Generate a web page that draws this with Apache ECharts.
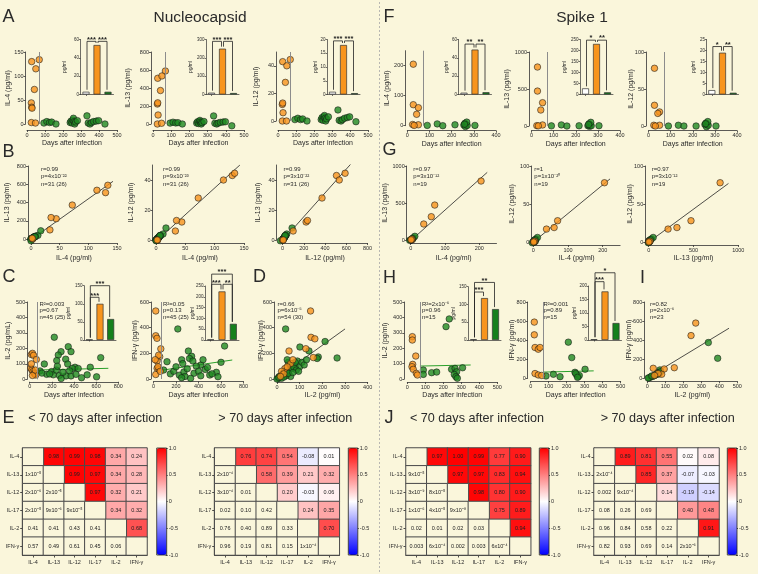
<!DOCTYPE html>
<html>
<head>
<meta charset="utf-8">
<script src="https://cdn.jsdelivr.net/npm/echarts@6.0.0/dist/echarts.min.js"></script>
<style>
html,body{margin:0;padding:0;background:#faf6db;}
#chart{width:758px;height:574px;}
</style>
</head>
<body>
<div id="chart"></div>
<script>
// ================= DATA =================
const dayCutoff = 70;
const groups = ['Control', '<70 days', '>70 days'];
const cyto = ['IL-4', 'IL-13', 'IL-12', 'IL-17', 'IL-2', 'IFN-γ'];

// ---- Nucleocapsid (A, B) ----
const nDaysEarly = [26, 68, 49, 41, 24, 26, 28, 24, 47];
const nIL4Early  = [130, 134, 115, 72, 44, 35, 33, 3, 2];
const nIL13Early = [508, 589, 534, 372, 222, 235, 100, 0, 8];
const nIL12Early = [43, 44.5, 40, 28, 12, 13, 6, 0, 0];
const nDaysLate  = [94, 110, 125, 137, 161, 240, 245, 250, 255, 258, 262, 265, 270, 280, 333, 340, 350, 358, 370, 385, 398, 433];
const nIL4Late   = [2, 5, 3, 4, 0, 3, 6, 2, 8, 12, 5, 0, 4, 7, 17, 2, 0, 3, 5, 6, 7, 0];
const nIL13Late  = [10, 20, 12, 15, 0, 10, 25, 5, 30, 40, 20, 0, 15, 28, 90, 8, 0, 10, 18, 22, 25, -20];
const nIL12Late  = [1, 2, 1, 1.5, 0, 1, 2.5, 0.5, 3, 4, 2, 0, 1.5, 3, 8, 0.5, 0, 1, 2, 2.5, 3, -0.5];
const nFitIL4IL13  = [[-3, -20], [143, 632]];
const nFitIL4IL12  = [[-3, -2], [143, 50]];
const nFitIL13IL12 = [[-20, -2], [660, 52]];

// ---- Nucleocapsid (C, D) ----
const cIL2Early = [[15,160],[25,168],[35,155],[60,128],[10,72],[20,60],[30,50],[40,40],[45,35],[55,28],[25,25],[15,100],[50,60]];
const cIL2Late = [[222,272],[348,211],[373,179],[283,179],[258,157],[641,140],[325,130],[244,121],[132,99],[343,99],[409,78],[547,78],[385,70],[438,70],[93,54],[198,50],[153,32],[213,29],[268,25],[328,22],[373,22],[418,32],[519,29],[468,10],[604,16],[284,5],[110,40],[240,60],[300,45],[360,55],[250,85],[180,35]];
const cIL2Fit = [[75, 60], [710, 71]];
const cIFNgEarly = [[20,530],[20,337],[31,317],[65,235],[55,174],[32,141],[45,185],[32,83],[50,75],[20,35],[40,95],[60,60],[15,150]];
const cIFNgLate = [[216,390],[310,218],[339,177],[421,109],[559,52],[573,18],[500,31],[632,257],[90,70],[120,135],[150,40],[180,60],[200,95],[230,30],[250,150],[260,120],[270,55],[280,20],[300,80],[320,160],[350,140],[360,45],[380,100],[400,60],[420,25],[440,150],[460,75],[480,90],[520,40],[600,130],[250,10],[330,5]];
const cIFNgFit = [[70, 68], [700, 148]];
const dEarly = [[148,530],[150,325],[167,313],[127,236],[53,218],[160,167],[35,82],[60,120],[20,60],[45,95],[30,40],[70,150],[15,20]];
const dLate = [[38,390],[212,292],[265,164],[182,172],[177,160],[101,249],[141,219],[50,130],[60,110],[70,120],[80,100],[90,140],[100,95],[40,60],[30,50],[20,30],[10,10],[5,5],[15,20],[25,40],[35,35],[45,55],[55,70],[65,80],[75,90],[85,70],[95,60],[110,130],[120,110],[130,150],[60,20],[40,25],[20,5],[10,20],[50,45],[0,0],[8,12],[30,15],[70,50],[80,130],[45,150]];
const dFit = [[0, 8], [300, 390]];

// ---- Spike 1 (F, G) ----
const sDaysEarly = [27, 27, 50, 42, 24, 50, 31];
const sIL4Early  = [205, 70, 60, 38, 4, 3, 1];
const sIL13Early = [797, 472, 315, 216, 5, 14, 2];
const sIL12Early = [78, 28, 19, 17, 1, 1, 0];
const sDaysLate  = [90, 135, 160, 215, 255, 260, 262, 265, 270, 268, 305, 258];
const sIL4Late   = [1, 6, 0, 3, 2, 8, -3, 4, 1, 12, 1, 5];
const sIL13Late  = [2, 15, 0, 3, 5, 30, -5, 10, 3, 50, 4, 20];
const sIL12Late  = [0, 1, 0, 0, 2, 4, -1, 2, 1, 6, 0, 3];
const sFitIL4IL13  = [[-5, -30], [223, 914]];
const sFitIL4IL12  = [[-5, -2], [221, 83]];
const sFitIL13IL12 = [[-10, -1], [890, 77]];

// ---- Spike 1 (H, I) ----
const hIL2Early = [[28,275],[28,253],[47,149],[30,95],[26,80],[33,63],[50,37],[56,26]];
const hIL2Late = [[215,340],[233,390],[89,58],[89,30],[135,41],[163,45],[246,63],[265,69],[274,47],[261,30],[270,15],[278,5],[307,73]];
const hIL2Fit = [[70, 84], [352, 91]];
const hIFNgEarly = [[20,589],[20,456],[24,323],[42,305],[52,323],[24,50],[42,35],[61,30]];
const hIFNgLate = [[85,24],[126,42],[163,17],[209,379],[228,217],[246,63],[256,35],[264,17],[270,30],[302,95],[250,50],[260,10]];
const hIFNgFit = [[70, 65], [350, 78]];
const iEarly = [[269,579],[243,448],[33,105],[94,98],[150,111],[80,42],[60,50],[40,30]];
const iLate = [[339,375],[391,210],[70,88],[60,60],[50,40],[40,30],[30,20],[20,15],[10,5],[5,3],[25,25],[45,35],[55,50],[65,45],[75,70]];
const iFit = [[0, 5], [454, 525]];

// ---- inset bars (Control, <70 d, >70 d) and significance [i, j, height, label] ----
const nIL4Bars = [3, 54, 3];      const nIL4Sig = [[0,1,58,'***'],[1,2,58,'***']];
const nIL13Bars = [10, 250, 8];   const nIL13Sig = [[0,1,290,'***'],[1,2,290,'***']];
const nIL12Bars = [1, 18, 0.5];   const nIL12Sig = [[0,1,19.5,'***'],[1,2,19.5,'***']];
const nIL2Bars = [1, 100, 58];    const nIL2Sig = [[0,1,118,'***'],[0,2,150,'***']];
const nIFNgBars = [2, 225, 75];   const nIFNgSig = [[0,1,258,'***'],[1,2,258,'**'],[0,2,305,'***']];
const sIL4Bars = [2, 49, 2.5];    const sIL4Sig = [[0,1,55,'**'],[1,2,55,'**']];
const sIL13Bars = [28, 230, 10];  const sIL13Sig = [[0,1,247,'*'],[1,2,247,'**']];
const sIL12Bars = [2, 19, 0.8];   const sIL12Sig = [[0,1,21.8,'*'],[1,2,21.8,'**']];
const sIL2Bars = [2, 118, 87];    const sIL2Sig = [[0,1,135,'***'],[0,2,162,'**']];
const sIFNgBars = [3, 180, 63];   const sIFNgSig = [[0,1,216,'***'],[0,2,249,'*']];

// ---- correlation matrices: r (upper triangle rows) and p (lower triangle rows) ----
const eEarlyR = [[0.98,0.99,0.98,0.34,0.24],[0.99,0.97,0.34,0.28],[0.97,0.32,0.21],[0.34,0.32],[0.68]];
const eEarlyP = [['1x10⁻⁵'],['2x10⁻⁶','2x10⁻⁵'],['2x10⁻⁵','9x10⁻⁶','9x10⁻⁵'],['0.41','0.41','0.43','0.41'],['0.57','0.49','0.61','0.45','0.06']];
const eLateR = [[0.76,0.74,0.54,-0.08,0.01],[0.58,0.39,0.21,0.32],[0.20,-0.03,0.06],[0.24,0.35],[0.70]];
const eLateP = [['2x10⁻⁴'],['3x10⁻⁴','0.01'],['0.02','0.10','0.42'],['0.76','0.40','0.89','0.33'],['0.96','0.19','0.81','0.15','1x10⁻⁴']];
const jEarlyR = [[0.97,1.00,0.99,0.77,0.90],[0.97,0.97,0.83,0.94],[0.98,0.80,0.90],[0.75,0.89],[0.94]];
const jEarlyP = [['9x10⁻⁵'],['3x10⁻⁹','8x10⁻⁵'],['1x10⁻⁶','4x10⁻⁵','9x10⁻⁸'],['0.02','0.01','0.02','0.03'],['0.003','6x10⁻⁴','0.002','0.003','6x10⁻⁴']];
const jLateR = [[0.89,0.81,0.55,0.02,0.08],[0.85,0.37,-0.07,-0.03],[0.14,-0.19,-0.14],[0.40,0.48],[0.91]];
const jLateP = [['2x10⁻⁴'],['0.002','9x10⁻⁴'],['0.08','0.26','0.69'],['0.96','0.84','0.58','0.22'],['0.82','0.93','0.69','0.14','2x10⁻⁶']];

// ---- statistics texts ----
const statB1 = ['r=0.99', 'p=4x10⁻²²', 'n=31 (26)'];
const statB2 = ['r=0.99', 'p=9x10⁻²³', 'n=31 (26)'];
const statB3 = ['r=0.99', 'p=3x10⁻²²', 'n=31 (26)'];
const statC1 = ['R²=0.003', 'p=0.67', 'n=45 (25)'];
const statC2 = ['R²=0.05', 'p=0.13', 'n=45 (25)'];
const statD  = ['r=0.66', 'p=6x10⁻⁵', 'n=54 (30)'];
const statG1 = ['r=0.97', 'p=3x10⁻¹²', 'n=19'];
const statG2 = ['r=1', 'p=1x10⁻²⁰', 'n=19'];
const statG3 = ['r=0.97', 'p=3x10⁻¹²', 'n=19'];
const statH1 = ['R²=2x10⁻⁶', 'p=0.96', 'n=15'];
const statH2 = ['R²=0.001', 'p=0.89', 'n=15'];
const statI  = ['r=0.82', 'p=2x10⁻⁶', 'n=23'];

// ================= STYLE / BUILD =================
const CREAM = '#faf6db', TXT = '#2a2a2a', AX = '#333333';
const ORANGE = '#f7941d', GREEN = '#1f8a22', GREENBAR = '#15801c';
const FONT = 'Liberation Sans, Arial, sans-serif';
const BARCOL = ['#ffffff', ORANGE, GREENBAR];
const DOT = 6.5;
const zip = (xs, ys) => xs.map((x, i) => [x, ys[i]]);
const plain = v => String(v);

const option = {
  backgroundColor: CREAM, animation: false,
  textStyle: {fontFamily: FONT},
  grid: [], xAxis: [], yAxis: [], series: [], visualMap: [],
  graphic: {elements: []}
};
const G = option.graphic.elements;

function addGrid(g) {
  option.grid.push(Object.assign({containLabel: false, outerBoundsMode: 'none', show: false}, g));
  return option.grid.length - 1;
}
function valAxis(gi, r, off, name, gap) {
  return {
    type: 'value', gridIndex: gi, min: r[0], max: r[1], interval: r[2], offset: off || 0,
    name: name || '', nameLocation: 'middle', nameGap: gap || 0, nameMoveOverlap: false,
    nameTextStyle: {fontSize: 7, color: TXT, fontFamily: FONT},
    splitLine: {show: false},
    axisLine: {show: true, onZero: false, lineStyle: {color: AX, width: 0.8}},
    axisTick: {show: true, length: 2, lineStyle: {color: AX, width: 0.8}},
    axisLabel: {fontSize: 5.5, color: TXT, margin: 2, fontFamily: FONT, formatter: plain,
      showMaxLabel: r[3] === false ? false : null}
  };
}
function scatterPanel(p) {
  const gi = addGrid(p.g);
  const xi = option.xAxis.push(valAxis(gi, p.x, p.xOff, p.xName, p.xGap)) - 1;
  const yi = option.yAxis.push(valAxis(gi, p.y, p.yOff, p.yName, p.yGap)) - 1;
  if (p.fit) option.series.push({type: 'line', xAxisIndex: xi, yAxisIndex: yi, data: p.fit, symbol: 'none', silent: true, z: 2,
    lineStyle: {color: p.fitColor || '#222', width: p.fitColor ? 1 : 0.8}});
  option.series.push({type: 'scatter', xAxisIndex: xi, yAxisIndex: yi, data: p.green, symbolSize: DOT, clip: false, silent: true, z: 3,
    itemStyle: {color: GREEN, borderColor: '#161616', borderWidth: 0.7}});
  const s = {type: 'scatter', xAxisIndex: xi, yAxisIndex: yi, data: p.orange, symbolSize: DOT, clip: false, silent: true, z: 4,
    itemStyle: {color: ORANGE, borderColor: '#161616', borderWidth: 0.7}};
  if (p.cutoff) s.markLine = {silent: true, symbol: ['none', 'none'], label: {show: false}, animation: false,
    lineStyle: {color: '#8c8c8c', width: 1, type: 'solid'}, emphasis: {disabled: true}, data: [{xAxis: dayCutoff}]};
  option.series.push(s);
}
function insetPanel(p) {
  const gi = addGrid(p.g);
  const xi = option.xAxis.push({type: 'category', gridIndex: gi, data: groups,
    axisLabel: {show: false}, axisTick: {show: true, alignWithLabel: true, length: 1.5, lineStyle: {color: AX, width: 0.7}},
    axisLine: {show: true, lineStyle: {color: AX, width: 0.7}}, splitLine: {show: false}}) - 1;
  const yi = option.yAxis.push({type: 'value', gridIndex: gi, min: 0, max: p.y[0], interval: p.y[1],
    name: 'pg/ml', nameLocation: 'middle', nameGap: p.gap, nameMoveOverlap: false,
    nameTextStyle: {fontSize: 5, color: TXT, fontFamily: FONT},
    axisLine: {show: true, lineStyle: {color: AX, width: 0.7}},
    axisTick: {show: true, length: 1.5, lineStyle: {color: AX, width: 0.7}},
    axisLabel: {fontSize: 4.5, color: TXT, margin: 1.5, fontFamily: FONT, formatter: plain}, splitLine: {show: false}}) - 1;
  option.series.push({type: 'bar', xAxisIndex: xi, yAxisIndex: yi, barWidth: 7, silent: true, z: 3,
    data: p.bars.map((v, i) => ({value: v, itemStyle: {color: BARCOL[i]}})),
    itemStyle: {borderColor: '#333', borderWidth: 0.7}});
  const bars = p.bars, sig = p.sig;
  option.series.push({type: 'custom', xAxisIndex: xi, yAxisIndex: yi, silent: true, z: 6, clip: false,
    data: sig.map(s => [s[0], s[2]]),
    renderItem: function (params, api) {
      const s = sig[params.dataIndex];
      const a = api.coord([s[0], s[2]]), b = api.coord([s[1], s[2]]);
      const ba = api.coord([s[0], bars[s[0]]]), bb = api.coord([s[1], bars[s[1]]]);
      const x1 = a[0] + 1, x2 = b[0] - 1, yh = a[1];
      const y1 = Math.max(ba[1] - 2, yh), y2 = Math.max(bb[1] - 2, yh);
      return {type: 'group', children: [
        {type: 'polyline', shape: {points: [[x1, y1], [x1, yh], [x2, yh], [x2, y2]]}, style: {stroke: '#222', lineWidth: 0.8, fill: 'none'}},
        {type: 'text', x: (x1 + x2) / 2, y: yh + 2.2, style: {text: s[3], fill: '#222', font: 'bold 7.5px ' + FONT, align: 'center', verticalAlign: 'bottom'}}
      ]};
    }});
}
function heatPanel(R, P, g, cb) {
  const gi = addGrid(g);
  const axBase = {axisLine: {show: true, lineStyle: {color: '#222', width: 1.2}},
    axisTick: {show: true, alignWithLabel: true, length: 2.5, lineStyle: {color: '#222', width: 0.8}},
    splitLine: {show: false}, splitArea: {show: false}};
  const xi = option.xAxis.push(Object.assign({type: 'category', gridIndex: gi, data: cyto, position: 'bottom',
    axisLabel: {fontSize: 5.5, color: TXT, margin: 4, interval: 0, fontFamily: FONT}}, axBase)) - 1;
  const yi = option.yAxis.push(Object.assign({type: 'category', gridIndex: gi, data: cyto, inverse: true,
    axisLabel: {fontSize: 5.5, color: TXT, margin: 3.5, interval: 0, fontFamily: FONT, overflow: 'none', width: 40}}, axBase)) - 1;
  const up = [], low = [], lowTxt = [];
  for (let i = 0; i < 6; i++) for (let j = 0; j < 6; j++) {
    if (j > i) up.push([j, i, R[i][j - i - 1]]);
    else { low.push([j, i, 0]); lowTxt.push(i > j ? P[i - 1][j] : ''); }
  }
  const upIdx = option.series.push({type: 'heatmap', xAxisIndex: xi, yAxisIndex: yi, data: up, silent: true,
    itemStyle: {borderColor: '#4a4a4a', borderWidth: 1}, emphasis: {disabled: true},
    label: {show: true, fontSize: 5.5, color: '#222', fontFamily: FONT, formatter: q => q.value[2].toFixed(2)}}) - 1;
  option.series.push({type: 'heatmap', xAxisIndex: xi, yAxisIndex: yi, data: low, silent: true,
    itemStyle: {color: CREAM, borderColor: '#4a4a4a', borderWidth: 1}, emphasis: {disabled: true},
    label: {show: true, fontSize: 5.5, color: '#222', fontFamily: FONT, formatter: q => lowTxt[q.dataIndex]}});
  option.visualMap.push({type: 'continuous', seriesIndex: upIdx, min: -1, max: 1, calculable: false, hoverLink: false,
    orient: 'vertical', left: cb.left, top: cb.top, itemWidth: cb.w, itemHeight: cb.h, padding: 0,
    inRange: {color: ['#0000ff', '#ffffff', '#ff0000']}});
  const cg = addGrid({left: cb.left + cb.w - 1, top: cb.top, width: 1, height: cb.h});
  option.xAxis.push({type: 'value', gridIndex: cg, show: false, min: 0, max: 1});
  option.yAxis.push({type: 'value', gridIndex: cg, position: 'right', min: -1, max: 1, interval: 0.5,
    axisLine: {show: false}, splitLine: {show: false},
    axisTick: {show: true, length: 2, lineStyle: {color: '#222', width: 0.8}},
    axisLabel: {fontSize: 5.5, color: TXT, margin: 2, fontFamily: FONT,
      formatter: v => v === 1 ? '1.0' : (v === -1 ? '-1.0' : String(v))}});
  G.push({type: 'rect', z: 100, silent: true, shape: {x: cb.left, y: cb.top, width: cb.w, height: cb.h},
    style: {fill: 'none', stroke: '#222', lineWidth: 0.8}});
}
function txt(x, y, s, size, ex) {
  G.push({type: 'text', x: x, y: y, silent: true, z: 50,
    style: Object.assign({text: s, fill: TXT, font: size + 'px ' + FONT, align: 'left', verticalAlign: 'middle'}, ex || {})});
}
function stat(x, y, lines, lh) {
  txt(x, y, lines.join('\n'), 6, {verticalAlign: 'top', lineHeight: lh});
}

// ---------- Panel A ----------
const DAYS = 'Days after infection';
scatterPanel({g: {left: 27, top: 52, width: 90, height: 72}, x: [0, 500, 100], xOff: 6, xName: DAYS, xGap: 10,
  y: [0, 150, 50], yOff: 1.5, yName: 'IL-4 (pg/ml)', yGap: 14,
  green: zip(nDaysLate, nIL4Late), orange: zip(nDaysEarly, nIL4Early), cutoff: true});
scatterPanel({g: {left: 153, top: 52, width: 91, height: 72}, x: [0, 500, 100], xOff: 6, xName: DAYS, xGap: 10,
  y: [0, 800, 200], yOff: 2, yName: 'IL-13 (pg/ml)', yGap: 19.5,
  green: zip(nDaysLate, nIL13Late), orange: zip(nDaysEarly, nIL13Early), cutoff: true});
scatterPanel({g: {left: 278, top: 52, width: 90, height: 69}, x: [0, 500, 100], xOff: 9, xName: DAYS, xGap: 10,
  y: [0, 50, 20, false], yOff: 2, yName: 'IL-12 (pg/ml)', yGap: 16.5,
  green: zip(nDaysLate, nIL12Late), orange: zip(nDaysEarly, nIL12Early), cutoff: true});
insetPanel({g: {left: 80.5, top: 39.5, width: 33, height: 55}, y: [60, 20], gap: 13, bars: nIL4Bars, sig: nIL4Sig});
insetPanel({g: {left: 206, top: 39.5, width: 33, height: 55}, y: [300, 100], gap: 12.5, bars: nIL13Bars, sig: nIL13Sig});
insetPanel({g: {left: 327, top: 39.5, width: 33, height: 55}, y: [20, 5], gap: 8.5, bars: nIL12Bars, sig: nIL12Sig});

// ---------- Panel B ----------
scatterPanel({g: {left: 31, top: 166, width: 86, height: 73}, x: [0, 150, 50], xOff: 4, xName: 'IL-4 (pg/ml)', xGap: 11.5,
  y: [0, 800, 200], yOff: 3, yName: 'IL-13 (pg/ml)', yGap: 17.5,
  green: zip(nIL4Late, nIL13Late), orange: zip(nIL4Early, nIL13Early), fit: nFitIL4IL13});
scatterPanel({g: {left: 156, top: 165, width: 88, height: 75}, x: [0, 150, 50], xOff: 3, xName: 'IL-4 (pg/ml)', xGap: 11.5,
  y: [0, 50, 20, false], yOff: 3.5, yName: 'IL-12 (pg/ml)', yGap: 18,
  green: zip(nIL4Late, nIL12Late), orange: zip(nIL4Early, nIL12Early), fit: nFitIL4IL12});
scatterPanel({g: {left: 282.5, top: 165, width: 85, height: 75}, x: [0, 800, 200], xOff: 3, xName: 'IL-12 (pg/ml)', xGap: 11.5,
  y: [0, 50, 20, false], yOff: 6, yName: 'IL-13 (pg/ml)', yGap: 15,
  green: zip(nIL13Late, nIL12Late), orange: zip(nIL13Early, nIL12Early), fit: nFitIL13IL12});

// ---------- Panel C / D ----------
scatterPanel({g: {left: 29.7, top: 302, width: 88.6, height: 77.3}, x: [0, 800, 200], xOff: 2.5, xName: DAYS, xGap: 10,
  y: [0, 500, 100], yOff: 2.5, yName: 'IL-2 (pg/mL)', yGap: 16,
  green: cIL2Late, orange: cIL2Early, cutoff: true, fit: cIL2Fit, fitColor: '#2aa02a'});
scatterPanel({g: {left: 153.5, top: 302, width: 90, height: 77}, x: [0, 800, 200], xOff: 2.5, xName: DAYS, xGap: 10,
  y: [0, 600, 200], yOff: 2.5, yName: 'IFN-γ (pg/ml)', yGap: 12.5,
  green: cIFNgLate, orange: cIFNgEarly, cutoff: true, fit: cIFNgFit, fitColor: '#2aa02a'});
insetPanel({g: {left: 84, top: 285.7, width: 32, height: 54.3}, y: [150, 50], gap: 12.5, bars: nIL2Bars, sig: nIL2Sig});
insetPanel({g: {left: 205, top: 286, width: 34, height: 54}, y: [250, 50], gap: 9.5, bars: nIFNgBars, sig: nIFNgSig});
scatterPanel({g: {left: 277, top: 302, width: 90.7, height: 77}, x: [0, 400, 100], xOff: 3, xName: 'IL-2 (pg/ml)', xGap: 10,
  y: [0, 600, 200], yOff: 3, yName: 'IFN-γ (pg/ml)', yGap: 9.5,
  green: dLate, orange: dEarly, fit: dFit});

// ---------- Panel F ----------
scatterPanel({g: {left: 407.3, top: 50.7, width: 88.7, height: 75}, x: [0, 400, 100], xOff: 5, xName: DAYS, xGap: 9.5,
  y: [0, 250, 100, false], yOff: 2, yName: 'IL-4 (pg/ml)', yGap: 15,
  green: zip(sDaysLate, sIL4Late), orange: zip(sDaysEarly, sIL4Early), cutoff: true});
scatterPanel({g: {left: 531.5, top: 52, width: 88.5, height: 74}, x: [0, 400, 100], xOff: 4.7, xName: DAYS, xGap: 9.5,
  y: [0, 1000, 500], yOff: 2.5, yName: 'IL-13 (pg/ml)', yGap: 18,
  green: zip(sDaysLate, sIL13Late), orange: zip(sDaysEarly, sIL13Early), cutoff: true});
scatterPanel({g: {left: 648.5, top: 52, width: 88.5, height: 74}, x: [0, 400, 100], xOff: 4.7, xName: DAYS, xGap: 9.5,
  y: [0, 100, 50], yOff: 2.5, yName: 'IL-12 (pg/ml)', yGap: 11.5,
  green: zip(sDaysLate, sIL12Late), orange: zip(sDaysEarly, sIL12Early), cutoff: true});
insetPanel({g: {left: 458.5, top: 39.5, width: 33, height: 55}, y: [60, 20], gap: 9.5, bars: sIL4Bars, sig: sIL4Sig});
insetPanel({g: {left: 580, top: 39.5, width: 33, height: 55}, y: [250, 50], gap: 12.5, bars: sIL13Bars, sig: sIL13Sig});
insetPanel({g: {left: 706.5, top: 39.5, width: 32, height: 55}, y: [25, 5], gap: 10.5, bars: sIL12Bars, sig: sIL12Sig});

// ---------- Panel G ----------
scatterPanel({g: {left: 410.7, top: 166, width: 85.8, height: 74}, x: [0, 250, 100, false], xOff: 3, xName: 'IL-4 (pg/ml)', xGap: 11.5,
  y: [0, 1000, 500], yOff: 4, yName: 'IL-13 (pg/ml)', yGap: 18,
  green: zip(sIL4Late, sIL13Late), orange: zip(sIL4Early, sIL13Early), fit: sFitIL4IL13});
scatterPanel({g: {left: 533.3, top: 166, width: 86.8, height: 76}, x: [0, 250, 100, false], xOff: 3, xName: 'IL-4 (pg/ml)', xGap: 10,
  y: [0, 100, 50], yOff: 2, yName: 'IL-12 (pg/ml)', yGap: 16,
  green: zip(sIL4Late, sIL12Late), orange: zip(sIL4Early, sIL12Early), fit: sFitIL4IL12});
scatterPanel({g: {left: 648.7, top: 166, width: 89.6, height: 76}, x: [0, 1000, 500], xOff: 3, xName: 'IL-13 (pg/ml)', xGap: 10,
  y: [0, 100, 50], yOff: 3.5, yName: 'IL-12 (pg/ml)', yGap: 11.5,
  green: zip(sIL13Late, sIL12Late), orange: zip(sIL13Early, sIL12Early), fit: sFitIL13IL12});

// ---------- Panel H / I ----------
scatterPanel({g: {left: 407.3, top: 302, width: 90, height: 77}, x: [0, 500, 100], xOff: 3, xName: DAYS, xGap: 10,
  y: [0, 500, 100], yOff: 3, yName: 'IL-2 (pg/ml)', yGap: 15.5,
  green: hIL2Late, orange: hIL2Early, cutoff: true, fit: hIL2Fit, fitColor: '#2aa02a'});
scatterPanel({g: {left: 530.7, top: 302, width: 90, height: 76.3}, x: [0, 500, 100], xOff: 3, xName: DAYS, xGap: 10,
  y: [0, 800, 200], yOff: 3, yName: 'IFN-γ (pg/ml)', yGap: 12.5,
  green: hIFNgLate, orange: hIFNgEarly, cutoff: true, fit: hIFNgFit, fitColor: '#2aa02a'});
insetPanel({g: {left: 468, top: 286.7, width: 33, height: 53.3}, y: [150, 50], gap: 11.5, bars: sIL2Bars, sig: sIL2Sig});
insetPanel({g: {left: 588.5, top: 286, width: 33, height: 54}, y: [200, 50], gap: 11.5, bars: sIFNgBars, sig: sIFNgSig});
scatterPanel({g: {left: 647.3, top: 302, width: 90, height: 76.3}, x: [0, 500, 100], xOff: 3, xName: 'IL-2 (pg/ml)', xGap: 10,
  y: [0, 800, 200], yOff: 3, yName: 'IFN-γ (pg/ml)', yGap: 11.5,
  green: iLate, orange: iEarly, fit: iFit});

// ---------- Panels E / J (heatmaps) ----------
heatPanel(eEarlyR, eEarlyP, {left: 22.7, top: 448, width: 124.3, height: 107}, {left: 156.7, top: 448, w: 10, h: 107});
heatPanel(eLateR, eLateP, {left: 214.7, top: 448, width: 124.6, height: 107}, {left: 348.3, top: 448, w: 9.5, h: 107});
heatPanel(jEarlyR, jEarlyP, {left: 406, top: 448, width: 124.7, height: 107}, {left: 539.3, top: 448, w: 9.7, h: 107});
heatPanel(jLateR, jLateP, {left: 594, top: 448, width: 125, height: 107}, {left: 727.3, top: 448, w: 9.7, h: 107});

// ---------- texts ----------
G.push({type: 'line', silent: true, z: 1, shape: {x1: 379.5, y1: 2, x2: 379.5, y2: 572},
  style: {stroke: '#a8a8a8', lineWidth: 0.8, lineDash: [2, 2]}});
txt(2.5, 17, 'A', 18); txt(2.5, 152, 'B', 18); txt(2.5, 277.5, 'C', 18); txt(253, 277.5, 'D', 18); txt(2.5, 418.5, 'E', 18);
txt(383.5, 17, 'F', 18); txt(382.5, 150.5, 'G', 18); txt(383, 278, 'H', 18); txt(640, 278, 'I', 18); txt(384.5, 418.5, 'J', 18);
txt(200, 17.5, 'Nucleocapsid', 15.5, {align: 'center'});
txt(582, 17.5, 'Spike 1', 15.5, {align: 'center'});
txt(28.3, 419, '< 70 days after infection', 12.6);
txt(218.3, 419, '> 70 days after infection', 12.6);
txt(410, 419, '< 70 days after infection', 12.6);
txt(600.7, 419, '> 70 days after infection', 12.6);
stat(41, 165.2, statB1, 7.6); stat(163, 165.2, statB2, 7.6); stat(283.5, 165.2, statB3, 7.6);
stat(413.3, 165.2, statG1, 7.6); stat(534.3, 165.2, statG2, 7.6); stat(651.7, 165.2, statG3, 7.6);
stat(39.5, 300.8, statC1, 6.6); stat(163, 300.8, statC2, 6.6); stat(277.5, 300.8, statD, 6.6);
stat(422, 300.8, statH1, 6.6); stat(543.5, 300.8, statH2, 6.6); stat(650, 300.8, statI, 6.6);

const chart = echarts.init(document.getElementById('chart'), null, {renderer: 'canvas'});
chart.setOption(option);
</script>
</body>
</html>
